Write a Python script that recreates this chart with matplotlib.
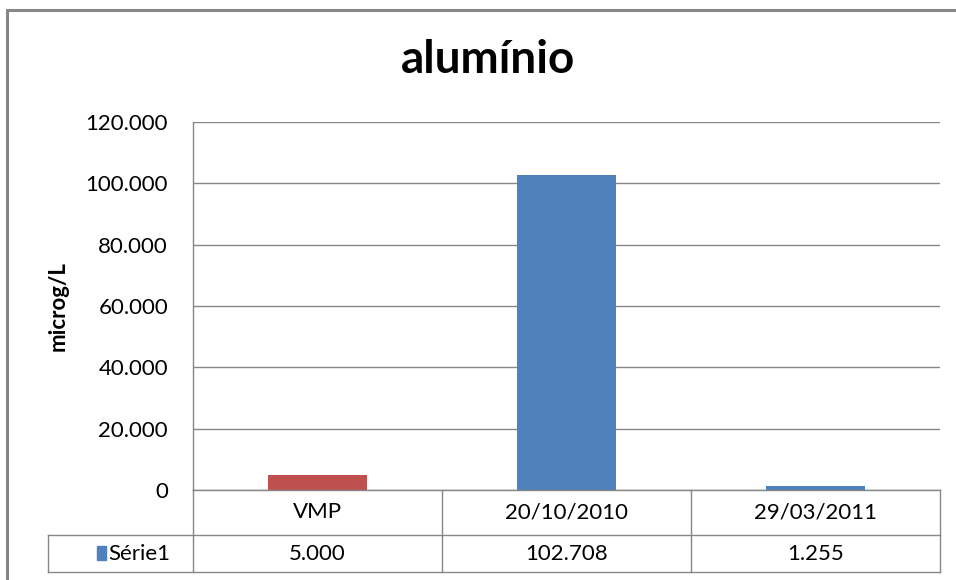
import numpy as np
import matplotlib.pyplot as plt
from matplotlib.ticker import FuncFormatter
from matplotlib.patches import Rectangle
from matplotlib.lines import Line2D

plt.rcParams['font.family'] = ['Lato', 'DejaVu Sans']

categories = ['VMP', '20/10/2010', '29/03/2011']
values = [5000, 102708, 1255]
value_labels = ['5.000', '102.708', '1.255']
series_name = 'Série1'
bar_colors = ['#C0504D', '#4F81BD', '#4F81BD']
legend_color = '#4F81BD'

W, H = 956, 580
fig = plt.figure(figsize=(W / 100, H / 100), dpi=100)


def fx(px):
    return px / W


def fy(py):
    return 1 - py / H


# outer chart border
fig.add_artist(Rectangle((fx(7), fy(600)), fx(980), fy(10) - fy(600),
                         fill=False, edgecolor='#868686', linewidth=2.2,
                         transform=fig.transFigure))

left, right, top, zero = 193, 940, 122, 490
ax = fig.add_axes([fx(left), fy(zero), fx(right - left), fy(top) - fy(zero)])

x = np.arange(len(categories))
ax.bar(x, values, width=0.4, color=bar_colors, zorder=3)
ax.set_xlim(-0.5, len(categories) - 0.5)
ax.set_ylim(0, 120000)
ax.set_yticks(np.arange(0, 120001, 20000))
ax.yaxis.set_major_formatter(FuncFormatter(lambda v, p: f'{int(v):,}'.replace(',', '.')))
ax.tick_params(axis='y', length=0, pad=18, labelsize=16)
ax.set_xticks([])
ax.grid(axis='y', color='#868686', linewidth=1.0, zorder=0)
for s in ['top', 'right', 'bottom']:
    ax.spines[s].set_visible(False)
ax.spines['left'].set_color('#868686')
ax.spines['left'].set_linewidth(1.0)

fig.text(fx(58), fy(306), 'microg/L', rotation=90, ha='center', va='center',
         fontsize=16, fontweight='bold')
fig.text(fx(488), fy(60), 'alumínio', ha='center', va='center', fontsize=33, fontweight='bold')

# data table below the axis
line_kw = dict(color='#868686', linewidth=1.0, transform=fig.transFigure)
row1, row2, row3 = 490, 535, 572
col_edges = [left + i * (right - left) / len(categories) for i in range(len(categories) + 1)]
fig.add_artist(Line2D([fx(left), fx(right)], [fy(row1), fy(row1)], **line_kw))
for r in (row2, row3):
    fig.add_artist(Line2D([fx(48), fx(right)], [fy(r), fy(r)], **line_kw))
for c in col_edges:
    fig.add_artist(Line2D([fx(c), fx(c)], [fy(row1), fy(row3)], **line_kw))
fig.add_artist(Line2D([fx(48), fx(48)], [fy(row2), fy(row3)], **line_kw))

for i, (cat, lab) in enumerate(zip(categories, value_labels)):
    cx = (col_edges[i] + col_edges[i + 1]) / 2
    fig.text(fx(cx), fy((row1 + row2) / 2), cat, ha='center', va='center', fontsize=16)
    fig.text(fx(cx), fy((row2 + row3) / 2 + 1), lab, ha='center', va='center', fontsize=16)

fig.add_artist(Rectangle((fx(97), fy(560)), fx(9), fy(546) - fy(560),
                         color=legend_color, transform=fig.transFigure))
fig.text(fx(108), fy((row2 + row3) / 2 + 1), series_name, ha='left', va='center', fontsize=16)

fig.savefig('out.png', dpi=100)
